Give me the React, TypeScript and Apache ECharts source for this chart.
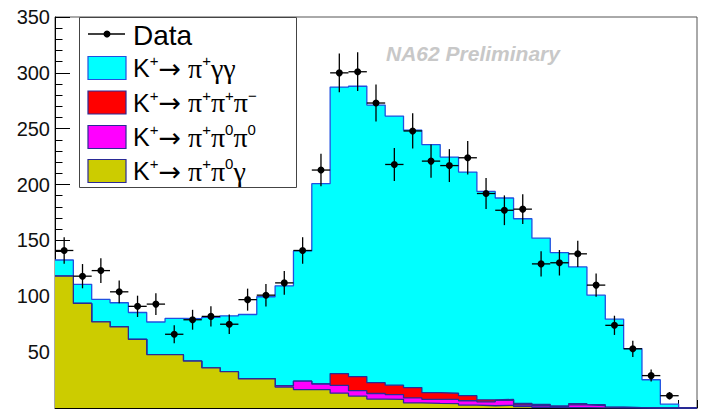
import React, { useEffect, useRef } from "react";
import * as echarts from "echarts";

// 35 bins (bin index 0..34)
const dataCounts = [141, 118, 123, 104, 91, 93, 66, 79, 82, 75, 97, 101, 112, 141, 213, 300, 301, 273, 218, 248, 221, 217, 224, 192, 177, 178, 129, 130, 138, 110, 74, 53, 29, 11, 0];
const kPiGammaGamma = [14.5, 17.1, 20.1, 21.6, 24, 29.2, 32.4, 37.9, 45.2, 50, 57.5, 73.4, 89.5, 116.6, 179.3, 256.5, 259.9, 248.5, 240.9, 230.4, 222, 211.4, 200.2, 186.6, 180.3, 165.2, 148.7, 137.3, 122.5, 98.1, 78.7, 52.9, 25.3, 3.4, 0];
const kPiPiPi = [0, 0, 0, 0, 0, 0, 0, 0, 0, 0, 0, 0, 0, 0, 0, 10.5, 12.6, 9.7, 8.4, 9.3, 6, 5.4, 4.5, 1.8, 0.8, 1.5, 1.3, 0.7, 1, 0.7, 0.3, 0, 0, 0, 0];
const kPiPi0Pi0 = [0, 0, 0, 0, 0, 0, 0, 0, 0, 0, 0, 0, 1.2, 7.5, 5, 7, 4.8, 5, 4.2, 4.5, 3.6, 3.8, 4, 3.5, 4.5, 1.5, 1.5, 0.8, 2.5, 2, 0.5, 0.3, 0, 0, 0];
const kPiPi0Gamma = [118, 93.6, 77.1, 72.6, 61.5, 47.8, 47.8, 42, 36, 32.5, 26.2, 26.2, 18.7, 16.5, 16.5, 13.3, 10.7, 8, 7.8, 4.5, 4.2, 4, 2.5, 2, 2.4, 1.2, 0.5, 0.3, 0.3, 0.2, 0, 0, 0, 0, 0];
const majorXTicks = [3, 8, 13, 18, 23, 28, 33];
const yTicks = { min: 0, max: 350, interval: 50 };

const legendRows = [
  { text: "{k|K}{s|+}{a|→}{g| π}{s|+}{g|γγ}", color: "#00ffff" },
  { text: "{k|K}{s|+}{a|→}{g| π}{s|+}{g|π}{s|+}{g|π}{s|−}", color: "#ff0000" },
  { text: "{k|K}{s|+}{a|→}{g| π}{s|+}{g|π}{s|0}{g|π}{s|0}", color: "#ff00ff" },
  { text: "{k|K}{s|+}{a|→}{g| π}{s|+}{g|π}{s|0}{g|γ}", color: "#cccc00" },
];

const NBINS = dataCounts.length;

function cumulative(...arrs: number[][]) {
  return arrs[0].map((_, i) => arrs.reduce((s, a) => s + a[i], 0));
}
function stepData(arr: number[]) {
  const d = arr.map((v, i) => [i, v]);
  d.push([arr.length, arr[arr.length - 1]]);
  return d;
}

export default function App() {
  const ref = useRef<HTMLDivElement>(null);
  useEffect(() => {
    document.body.style.margin = "0";
    const chart = echarts.init(ref.current!, null, { renderer: "svg" });
    const c1 = kPiPi0Gamma;
    const c2 = cumulative(kPiPi0Gamma, kPiPi0Pi0);
    const c3 = cumulative(kPiPi0Gamma, kPiPi0Pi0, kPiPiPi);
    const c4 = cumulative(kPiPi0Gamma, kPiPi0Pi0, kPiPiPi, kPiGammaGamma);
    const edge = "#2a2a96";
    const mkStep = (name: string, arr: number[], fill: string, line: string, z: number) => ({
      name,
      type: "line",
      step: "end",
      symbol: "none",
      data: stepData(arr),
      lineStyle: { color: line, width: 1.3 },
      areaStyle: { color: fill, opacity: 1 },
      z,
      xAxisIndex: 0,
    });
    const rowY = [68, 102.5, 137, 171];
    const rich = {
      k: { fontSize: 25, fontFamily: "Liberation Sans", lineHeight: 30, color: "#000" },
      s: { fontSize: 15, fontFamily: "Liberation Sans", lineHeight: 15, verticalAlign: "top", color: "#000" },
      a: { fontSize: 27, fontFamily: "DejaVu Sans", lineHeight: 30, color: "#000" },
      g: { fontSize: 28, fontFamily: "Liberation Serif", lineHeight: 30, color: "#000" },
    };
    const graphic: any[] = [
      {
        type: "text",
        x: 386,
        y: 53,
        z: 1,
        style: { text: "NA62 Preliminary", font: "italic bold 21px 'Liberation Sans'", fill: "#c8c8c8", verticalAlign: "middle" },
      },
      {
        type: "rect",
        z: 100,
        shape: { x: 79.5, y: 17.5, width: 217, height: 170 },
        style: { fill: "#fff", stroke: "#444", lineWidth: 1 },
      },
      { type: "line", z: 101, shape: { x1: 88, y1: 34, x2: 125, y2: 34 }, style: { stroke: "#000", lineWidth: 1.5 } },
      { type: "circle", z: 101, shape: { cx: 107, cy: 34, r: 3.5 }, style: { fill: "#000" } },
      {
        type: "text",
        z: 101,
        x: 133,
        y: 35,
        style: { text: "Data", font: "28px 'Liberation Sans'", fill: "#000", verticalAlign: "middle" },
      },
    ];
    legendRows.forEach((r, i) => {
      graphic.push({
        type: "rect",
        z: 101,
        shape: { x: 88, y: rowY[i] - 11.5, width: 38, height: 23 },
        style: { fill: r.color, stroke: i === 0 ? "#2050e0" : edge, lineWidth: 1.2 },
      });
      graphic.push({
        type: "text",
        z: 101,
        x: 133,
        y: rowY[i],
        style: { text: r.text, rich, verticalAlign: "middle", fill: "#000" },
      });
    });

    const points = dataCounts
      .map((v, i) => [i + 0.5, v, Math.sqrt(v)])
      .filter((p) => p[1] > 0);

    chart.setOption({
      animation: false,
      grid: {
        left: 55,
        right: 5,
        top: 17,
        bottom: 4,
        show: true,
        borderColor: "#555",
        borderWidth: 1,
        backgroundColor: "transparent",
      },
      xAxis: [
        {
          type: "value",
          min: 0,
          max: NBINS,
          interval: 1,
          axisLine: { show: true, lineStyle: { color: "#000", width: 1 } },
          axisTick: { show: true, inside: true, length: 8, lineStyle: { color: "#000" } },
          axisLabel: { show: false },
          splitLine: { show: false },
        },
        {
          type: "value",
          min: 0,
          max: NBINS,
          position: "bottom",
          axisLine: { show: false },
          axisTick: { show: true, inside: true, length: 16, customValues: majorXTicks, lineStyle: { color: "#000" } },
          axisLabel: { show: false },
          splitLine: { show: false },
        },
      ],
      yAxis: {
        type: "value",
        min: yTicks.min,
        max: yTicks.max,
        interval: yTicks.interval,
        axisLine: { show: true, lineStyle: { color: "#000", width: 1 } },
        axisTick: { show: true, inside: true, length: 15, lineStyle: { color: "#000" } },
        minorTick: { show: true, splitNumber: 5, length: 7.5, lineStyle: { color: "#000" } },
        axisLabel: {
          formatter: (v: number) => (v === 0 ? "" : String(v)),
          fontSize: 20,
          fontFamily: "Liberation Sans",
          color: "#111",
          margin: 5,
        },
        splitLine: { show: false },
      },
      graphic,
      series: [
        mkStep("K+→ π+γγ", c4, "#00ffff", "#2050e0", 2),
        mkStep("K+→ π+π+π−", c3, "#ff0000", edge, 3),
        mkStep("K+→ π+π0π0", c2, "#ff00ff", edge, 4),
        mkStep("K+→ π+π0γ", c1, "#cccc00", edge, 5),
        {
          name: "Data",
          type: "custom",
          z: 10,
          data: points,
          renderItem: (params: any, api: any) => {
            const x = api.value(0);
            const y = api.value(1);
            const e = api.value(2);
            const l = api.coord([x - 0.5, y]);
            const r = api.coord([x + 0.5, y]);
            const t = api.coord([x, y + e]);
            const b = api.coord([x, y - e]);
            return {
              type: "group",
              children: [
                { type: "line", shape: { x1: l[0], y1: l[1], x2: r[0], y2: r[1] }, style: { stroke: "#000", lineWidth: 1.3 } },
                { type: "line", shape: { x1: t[0], y1: t[1], x2: b[0], y2: b[1] }, style: { stroke: "#000", lineWidth: 1.3 } },
                { type: "circle", shape: { cx: l[0] + (r[0] - l[0]) / 2, cy: l[1], r: 3.5 }, style: { fill: "#000" } },
              ],
            };
          },
        },
      ],
    });
    return () => chart.dispose();
  }, []);
  return <div ref={ref} style={{ width: 702, height: 412 }} />;
}
